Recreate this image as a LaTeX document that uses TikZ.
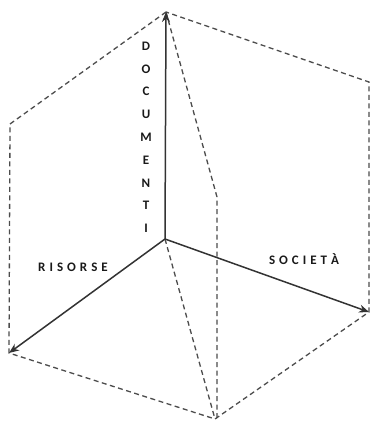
\documentclass[tikz,border=0pt]{standalone}
\usepackage{fontspec}
\setmainfont{Carlito}
\usetikzlibrary{arrows.meta}
\newcommand\lsp{\hspace{4pt}}
\begin{document}
\begin{tikzpicture}[x=1pt,y=-1pt,
  axis/.style={line width=1.5pt,draw=black!80,-{Stealth[length=10pt,width=8pt]}},
  dline/.style={line width=1.3pt,draw=black!70,dash pattern=on 5pt off 3.5pt},
  lbl/.style={font=\bfseries\fontsize{13}{14}\selectfont,text=black!90,inner sep=0pt}]
\useasboundingbox (0,0) rectangle (371,421);
\coordinate (O) at (165,239);
\coordinate (T) at (166,12);
\coordinate (L) at (9,353);
\coordinate (R) at (369,312);
\coordinate (UL) at (10,124);
\coordinate (UR) at (369,82);
\coordinate (B) at (215,419);
\coordinate (M) at (217,197);
\coordinate (B2) at (217,419);
\draw[dline] (T) -- (UL) -- (L) -- (B) -- (R) -- (UR) -- (T);
\draw[dline] (T) -- (M) -- (B2);
\draw[dline] (O) -- (B);
\draw[axis] (O) -- (T);
\draw[axis] (O) -- (L);
\draw[axis] (O) -- (R);
\foreach \ch [count=\i from 0] in {D,O,C,U,M,E,N,T,I}
  \node[lbl,name=d\i] at (146,{46+22.8*\i}) {\ch};
\node[lbl,name=ris] at (73,267) {R\lsp I\lsp S\lsp O\lsp R\lsp S\lsp E};
\node[lbl,name=soc] at (304,259) {S\lsp O\lsp C\lsp I\lsp E\lsp T\lsp À};
\end{tikzpicture}
\end{document}
